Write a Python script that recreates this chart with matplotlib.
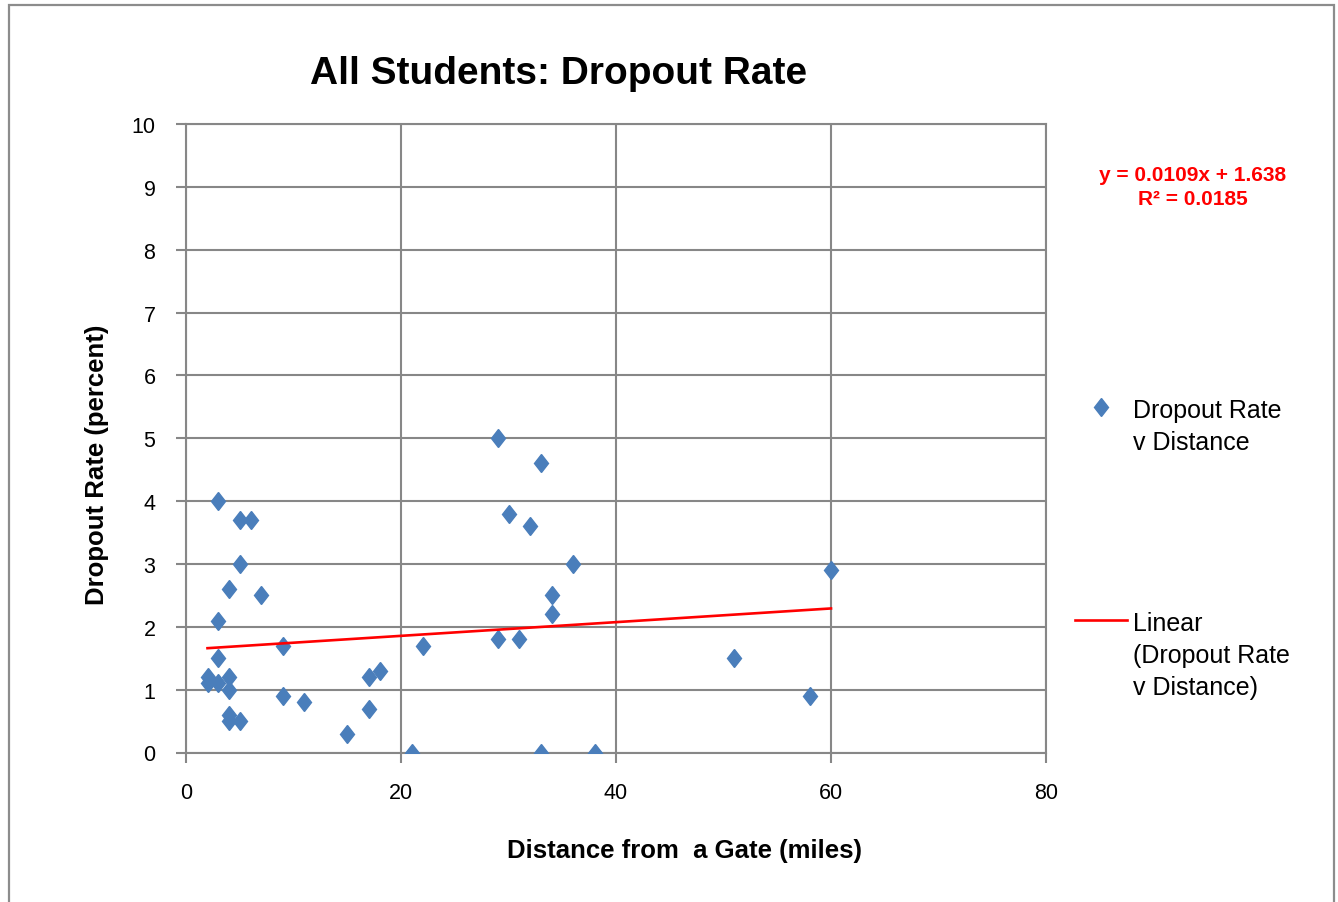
import matplotlib
matplotlib.use("Agg")
import matplotlib.pyplot as plt
import matplotlib.patches as mpatches
from matplotlib.markers import MarkerStyle
from matplotlib.transforms import Affine2D
import numpy as np

plt.rcParams['font.family'] = ['Liberation Sans Narrow', 'Liberation Sans', 'DejaVu Sans']

# ---- data ----
distance = [3, 5, 6, 5, 4, 7, 3, 9, 3, 2, 2, 3, 4, 4, 9, 11, 4, 4, 5, 15, 17, 17, 18, 21, 22,
            29, 33, 30, 32, 36, 34, 34, 29, 31, 51, 58, 60, 33, 38]
dropout = [4.0, 3.7, 3.7, 3.0, 2.6, 2.5, 2.1, 1.7, 1.5, 1.2, 1.1, 1.1, 1.2, 1.0, 0.9, 0.8, 0.6, 0.5, 0.5, 0.3, 0.7, 1.2, 1.3, 0.0, 1.7,
           5.0, 4.6, 3.8, 3.6, 3.0, 2.5, 2.2, 1.8, 1.8, 1.5, 0.9, 2.9, 0.0, 0.0]
slope = 0.0109
intercept = 1.638
r_squared = 0.0185
x_ticks = [0, 20, 40, 60, 80]
y_ticks = list(range(0, 11))

title = "All Students: Dropout Rate"
xlabel = "Distance from  a Gate (miles)"
ylabel = "Dropout Rate (percent)"
series_label = "Dropout Rate\nv Distance"
trend_label = "Linear\n(Dropout Rate\nv Distance)"

GRID = '#878787'
BLUE = '#4A7EBB'

fig = plt.figure(figsize=(13.38, 9.03), dpi=100)
ax = fig.add_axes([186/1338, 1-753.5/903, 860/1338, 628.5/903])

marker = MarkerStyle('D', transform=Affine2D().scale(0.78, 1.0))
ax.plot(distance, dropout, linestyle='none', marker=marker, markersize=9.2,
        color=BLUE, markeredgecolor=BLUE, label=series_label, zorder=3)

tx = np.array([min(distance), max(distance)])
ax.plot(tx, slope*tx + intercept, color='#FF0000', lw=1.9, label=trend_label, zorder=4)

ax.set_xlim(0, 80)
ax.set_ylim(0, 10)
ax.set_xticks(x_ticks)
ax.set_yticks(y_ticks)
ax.grid(True, color=GRID, lw=1.5, zorder=0)
ax.set_axisbelow(True)
for s in ax.spines.values():
    s.set_color(GRID)
    s.set_linewidth(1.5)
ax.tick_params(axis='both', colors=GRID, length=7, width=1.5, direction='out',
               labelsize=15.5, labelcolor='black')
ax.tick_params(axis='y', pad=15)
ax.tick_params(axis='x', pad=14)

ax.set_title(title, fontsize=28, fontweight='bold', x=(559-186)/860,
             y=(753.5-74)/628.5, va='center', pad=0)
ax.set_xlabel(xlabel, fontsize=18.5, fontweight='bold', va='center')
ax.xaxis.set_label_coords((684-186)/860, (753.5-851)/628.5)
ax.set_ylabel(ylabel, fontsize=18.5, fontweight='bold', va='center')
ax.yaxis.set_label_coords((97-186)/860, (753.5-465)/628.5)

fig.text(1193/1338, 1-187.5/903, f"y = {slope}x + {intercept}\nR² = {r_squared}",
         color='#FF0000', fontsize=15, fontweight='bold', ha='center', va='center',
         multialignment='center', linespacing=1.3)

leg = ax.legend(loc='upper left', bbox_to_anchor=(1065/1338, 1-389/903),
                bbox_transform=fig.transFigure, frameon=False, fontsize=18,
                labelspacing=6.3, handlelength=2.08, handletextpad=0.24,
                borderaxespad=0)
for t in leg.get_texts():
    t.set_linespacing(1.41)
# align each legend marker/line with the first line of its label
for col in leg._legend_handle_box.get_children():
    for row in col.get_children():
        row.align = 'top'

border = mpatches.Rectangle((9/1338, -0.02), (1334-9)/1338, 1.02 - 6/903,
                            transform=fig.transFigure, fill=False,
                            edgecolor='#8C8C8C', lw=1.6, clip_on=False)
fig.add_artist(border)

fig.savefig('out.png', dpi=100)
